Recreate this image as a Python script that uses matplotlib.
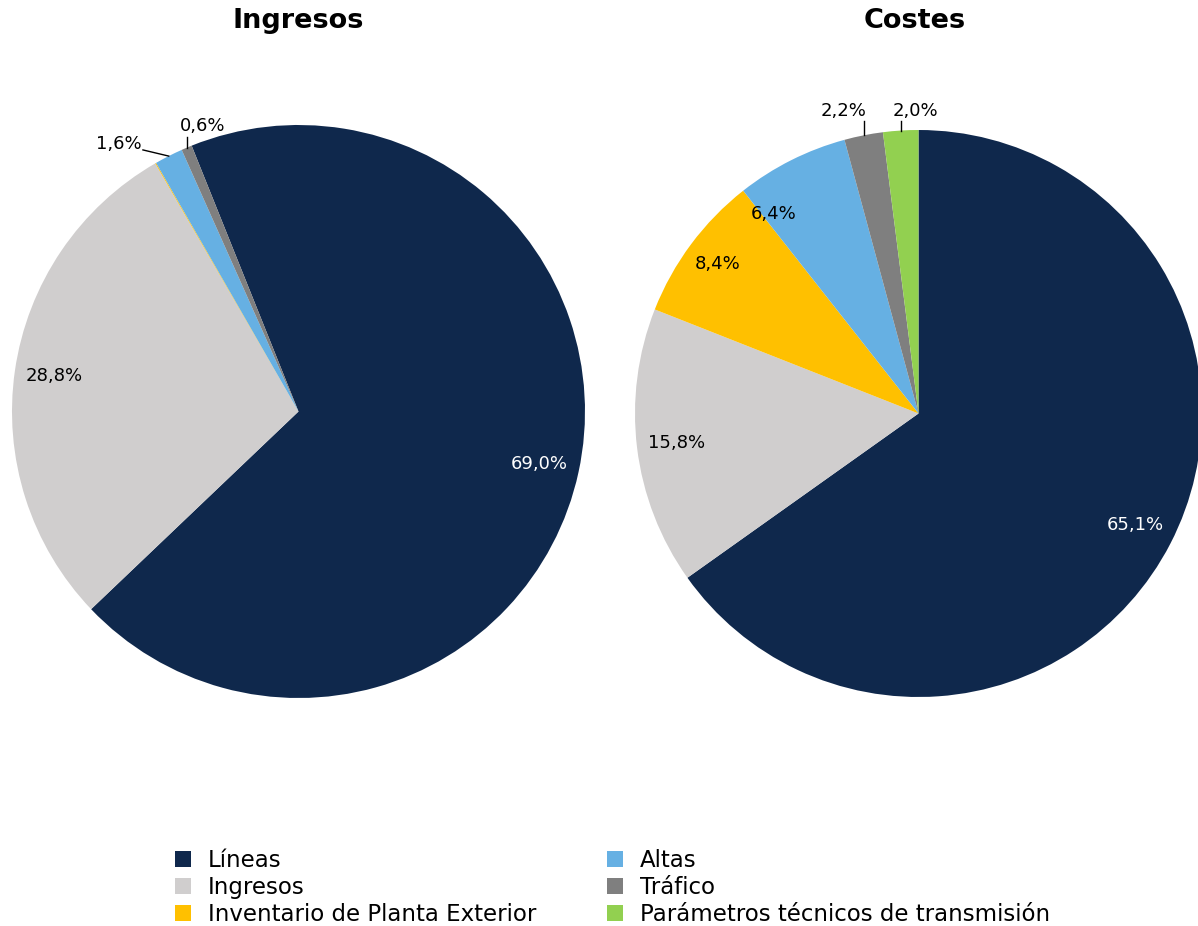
import matplotlib
matplotlib.use("Agg")
import matplotlib.pyplot as plt
from matplotlib.patches import Patch
import numpy as np

plt.rcParams['font.family'] = ['DejaVu Sans']

categories = ["Líneas", "Ingresos", "Inventario de Planta Exterior", "Altas", "Tráfico",
              "Parámetros técnicos de transmisión"]
ingresos_vals = [69.0, 28.8, 0.05, 1.6, 0.6, 0.0]
costes_vals = [65.1, 15.8, 8.4, 6.4, 2.2, 2.0]
titles = ["Ingresos", "Costes"]

colors = ['#0f284c', '#d0cece', '#ffc000', '#66b0e3', '#7f7f7f', '#92d050']
label_colors = ['white', 'black', 'black', 'black', 'black', 'black']

W, H = 1198, 926
fig = plt.figure(figsize=(W / 100, H / 100), dpi=100)


def fig_axes(cx, cy, r):
    return fig.add_axes([(cx - r) / W, (H - cy - r) / H, 2 * r / W, 2 * r / H])


def fmt(v):
    return f"{v:.1f}%".replace('.', ',')


def draw_pie(ax, vals, startangle, outside, inside_adj):
    wedges, _ = ax.pie(vals, colors=colors, startangle=startangle, counterclock=False,
                       radius=1.0, wedgeprops=dict(linewidth=0))
    ax.set_xlim(-1, 1)
    ax.set_ylim(-1, 1)
    ax.set_aspect('equal')
    ax.axis('off')
    for i, (w, v) in enumerate(zip(wedges, vals)):
        if v < 0.5:
            continue
        mid_deg = (w.theta1 + w.theta2) / 2
        if i in outside:
            x_end, y_end, ha, tdx, ty = outside[i]
            mid = np.deg2rad(mid_deg)
            x0, y0 = np.cos(mid), np.sin(mid)
            x1 = x0 if x_end is None else x_end
            ax.plot([x0, x1], [y0, y_end], color='black', lw=1, clip_on=False)
            ax.text(x1 + tdx, ty, fmt(v), ha=ha, va='center', fontsize=13,
                    color='black')
        else:
            dang, d = inside_adj.get(i, (0.0, 0.86))
            mid = np.deg2rad(mid_deg + dang)
            ax.text(d * np.cos(mid), d * np.sin(mid), fmt(v), ha='center', va='center',
                    fontsize=13, color=label_colors[i])


ax1 = fig_axes(298.5, 411.5, 286.5)
draw_pie(ax1, ingresos_vals, 111.9,
         {3: (-0.543, 0.913, 'right', -0.005, 0.934),
          4: (None, 0.958, 'left', -0.025, 0.997)},
         {})

ax2 = fig_axes(918.5, 413.5, 283.5)
draw_pie(ax2, costes_vals, 90,
         {4: (None, 1.032, 'right', 0.012, 1.066),
          5: (None, 1.032, 'left', -0.028, 1.066)},
         {2: (0.0, 0.885), 3: (9.4, 0.87)})

fig.text(298 / W, 1 - 21 / H, titles[0], ha='center', va='center', fontsize=19.5,
         fontweight='bold')
fig.text(915 / W, 1 - 21 / H, titles[1], ha='center', va='center', fontsize=19.5,
         fontweight='bold')

handles = [Patch(facecolor=c, edgecolor='none', label=l) for c, l in zip(colors, categories)]
fig.legend(handles=handles, ncol=2, loc='upper left',
           bbox_to_anchor=(175 / W, 1 - 849 / H), frameon=False, fontsize=16.5,
           handlelength=0.7, handleheight=0.7, handletextpad=0.75,
           columnspacing=3.07, labelspacing=0.18, borderpad=0, borderaxespad=0)

fig.savefig('out.png', dpi=100)
